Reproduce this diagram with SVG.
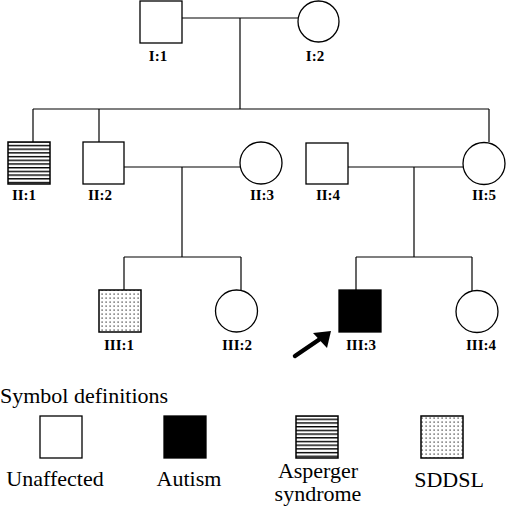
<svg xmlns="http://www.w3.org/2000/svg" width="507" height="511" viewBox="0 0 507 511">
<style>
.sym{fill:#fff;stroke:#000;stroke-width:1.3}
.aff{fill:#000;stroke:#000;stroke-width:1.3}
.asp{fill:url(#hatch);stroke:#000;stroke-width:1.5}
.sdd{fill:url(#dots);stroke:#000;stroke-width:1.5}
.lbl{font-family:"Liberation Serif",serif;font-weight:bold;font-size:15px;text-anchor:middle}
.leg{font-family:"Liberation Serif",serif;font-size:22px}
#connectors line{stroke:#000;stroke-width:1.2}
</style>
<defs>
<pattern id="hatch" patternUnits="userSpaceOnUse" x="0" y="0.5" width="6" height="3.7">
<rect width="6" height="3.7" fill="#fff"/>
<rect y="0" width="6" height="1.4" fill="#000"/>
</pattern>
<pattern id="dots" patternUnits="userSpaceOnUse" width="4" height="4">
<rect width="4" height="4" fill="#fff"/>
<rect x="1.5" y="1.5" width="1.2" height="1.2" fill="#222"/>
</pattern>
</defs>
<rect width="507" height="511" fill="#fff"/>
<g id="connectors">
<line x1="182" y1="18" x2="298" y2="18"/>
<line x1="240" y1="18" x2="240" y2="109"/>
<line x1="33" y1="109" x2="489" y2="109"/>
<line x1="33" y1="109" x2="33" y2="142"/>
<line x1="99" y1="109" x2="99" y2="142"/>
<line x1="489" y1="109" x2="489" y2="142"/>
<line x1="124" y1="167" x2="240" y2="167"/>
<line x1="182" y1="167" x2="182" y2="257"/>
<line x1="348" y1="167" x2="463" y2="167"/>
<line x1="414" y1="167" x2="414" y2="257"/>
<line x1="124" y1="257" x2="241" y2="257"/>
<line x1="124" y1="257" x2="124" y2="290"/>
<line x1="241" y1="257" x2="241" y2="290"/>
<line x1="356" y1="257" x2="472" y2="257"/>
<line x1="356" y1="257" x2="356" y2="290"/>
<line x1="472" y1="257" x2="472" y2="291"/>
</g>
<g id="I1"><rect class="sym" x="140" y="1" width="42" height="42"/><text class="lbl" x="158" y="61">I:1</text></g>
<g id="I2"><circle class="sym" cx="318.5" cy="21.5" r="20.5"/><text class="lbl" x="315" y="61">I:2</text></g>
<g id="II1"><rect class="asp" x="8" y="142" width="42" height="42"/><text class="lbl" x="24" y="200">II:1</text></g>
<g id="II2"><rect class="sym" x="83" y="142" width="41" height="42"/><text class="lbl" x="100" y="200">II:2</text></g>
<g id="II3"><circle class="sym" cx="261" cy="163" r="21"/><text class="lbl" x="262" y="200">II:3</text></g>
<g id="II4"><rect class="sym" x="306" y="143" width="42" height="41"/><text class="lbl" x="328" y="200">II:4</text></g>
<g id="II5"><circle class="sym" cx="484" cy="163.5" r="21"/><text class="lbl" x="484" y="200">II:5</text></g>
<g id="III1"><rect class="sdd" x="99" y="290" width="42" height="42"/><text class="lbl" x="119" y="350">III:1</text></g>
<g id="III2"><circle class="sym" cx="236.5" cy="311" r="21"/><text class="lbl" x="237" y="350">III:2</text></g>
<g id="III3"><rect class="aff" x="339" y="290" width="42" height="42"/><text class="lbl" x="361" y="350">III:3</text></g>
<g id="III4"><circle class="sym" cx="477" cy="311.5" r="21"/><text class="lbl" x="481" y="350">III:4</text></g>
<g id="proband-arrow">
<line x1="295" y1="356" x2="320" y2="339" stroke="#000" stroke-width="4.5" stroke-linecap="round"/>
<polygon points="331,331 313,333 327,348" fill="#000"/>
</g>
<g id="legend">
<text class="leg" x="0" y="403">Symbol definitions</text>
<rect class="sym" x="40" y="416" width="42" height="42"/>
<text class="leg" x="55" y="486" text-anchor="middle">Unaffected</text>
<rect class="aff" x="164" y="416" width="42" height="42"/>
<text class="leg" x="189" y="486" text-anchor="middle">Autism</text>
<rect class="asp" x="296" y="416" width="42" height="42"/>
<text class="leg" x="318" y="478" text-anchor="middle">Asperger</text>
<text class="leg" x="318" y="501" text-anchor="middle">syndrome</text>
<rect class="sdd" x="421" y="416" width="42" height="42"/>
<text class="leg" x="449" y="487" text-anchor="middle">SDDSL</text>
</g>
</svg>
